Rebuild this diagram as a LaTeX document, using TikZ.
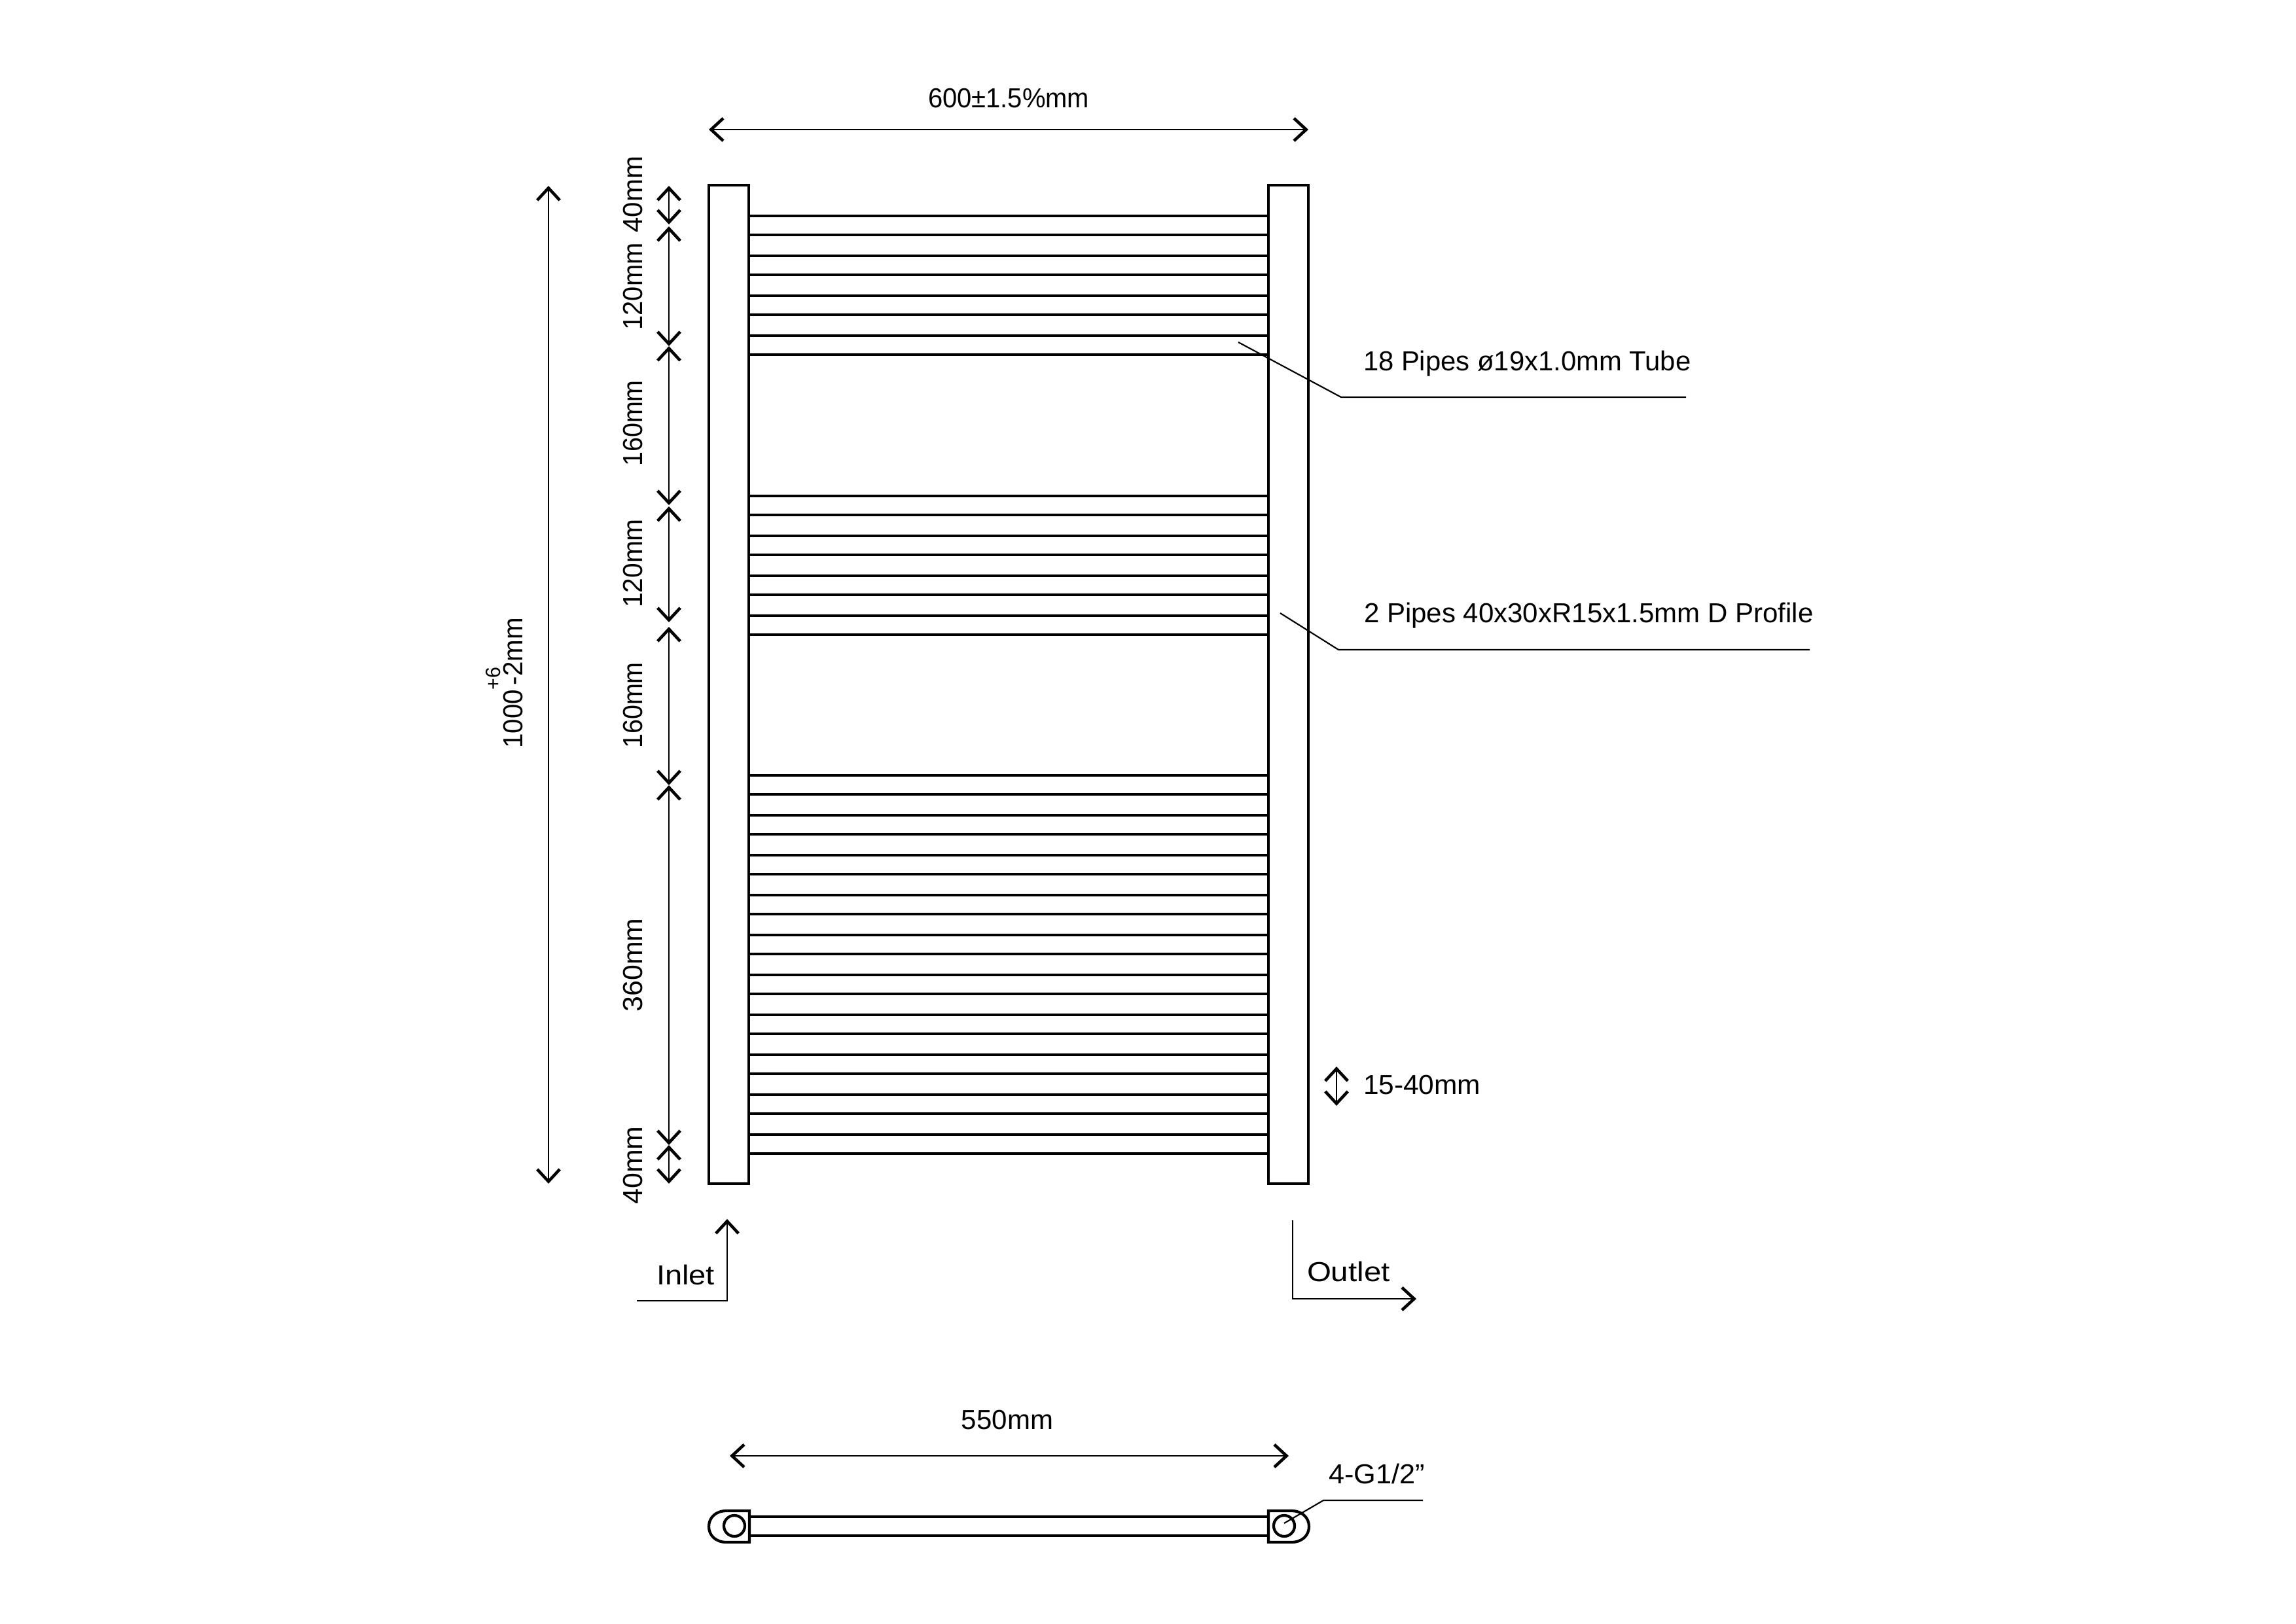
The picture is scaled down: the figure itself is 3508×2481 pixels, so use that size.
\documentclass[tikz,border=0pt]{standalone}
\usepackage{fontspec}
\usepackage{graphicx}
\setmainfont{Liberation Sans}
\usetikzlibrary{arrows.meta}
\tikzset{
  x=0.01cm,y=-0.01cm,
  barline/.style={line width=1.2pt,line join=miter},
  pipe/.style={line width=1pt},
  thin line/.style={line width=.62pt,line join=miter},
  >={Straight Barb[length=5.3pt,width=9.8pt,line width=1.3pt]},
  dim/.style={thin line,<->},
  flow/.style={thin line,->},
  lab/.style={inner sep=0pt,outer sep=0pt,anchor=base west,font=\fontsize{11.95}{14}\selectfont},
  labc/.style={lab,anchor=base},
  vlab/.style={lab,anchor=base,rotate=90},
}
\newcommand{\sx}[2]{\scalebox{#1}[1]{#2}}
\begin{document}
\begin{tikzpicture}
\useasboundingbox (0,-1) rectangle (3508,2480);
\fill[white] (0,-1) rectangle (3508,2480);

% pipes
\foreach \y in {329,358,390,419,451,480,512,541,
                757,786,818,847,879,908,940,969,
                1184,1213,1245,1274,1306,1335,1367,1396,1428,1457,1489,1518,1550,1579,1611,1640,1672,1701,1733,1762}
  \draw[pipe] (1144,\y) -- (1938,\y);

% collectors
\draw[barline] (1083,282) rectangle (1144,1808);
\draw[barline] (1938,282) rectangle (1999,1808);

% named dimension points
\coordinate (wL) at (1083,197);
\coordinate (wR) at (1999,197);
\coordinate (hT) at (838,283);
\coordinate (hB) at (838,1808);
\coordinate (a0) at (1022,283);
\coordinate (a1) at (1022,342);
\coordinate (b0) at (1022,345);
\coordinate (b1) at (1022,528);
\coordinate (c1) at (1022,771);
\coordinate (d0) at (1022,773);
\coordinate (d1) at (1022,950);
\coordinate (e0) at (1022,957);
\coordinate (e1) at (1022,1199);
\coordinate (f1) at (1022,1749);
\coordinate (g1) at (1022,1808);
\coordinate (sT) at (2042,1629);
\coordinate (sB) at (2042,1689);
\coordinate (cL) at (1115,2224);
\coordinate (cR) at (1969,2224);

\draw[dim] (wL) -- (wR);
\draw[dim] (hT) -- (hB);
\draw[dim] (a0) -- (a1);
\draw[dim] (b0) -- (b1);
\draw[dim] (b1) -- (c1);
\draw[dim] (d0) -- (d1);
\draw[dim] (e0) -- (e1);
\draw[dim] (e1) -- (f1);
\draw[dim] (f1) -- (g1);
\draw[dim] (sT) -- (sB);
\draw[dim] (cL) -- (cR);

% leaders
\coordinate (p1) at (1892,522);
\coordinate (p2) at (2049,606);
\coordinate (p3) at (2576,606);
\draw[thin line] (p1) -- (p2) -- (p3);
\coordinate (q1) at (1956,936);
\coordinate (q2) at (2045,992);
\coordinate (q3) at (2765,992);
\draw[thin line] (q1) -- (q2) -- (q3);

% inlet / outlet
\coordinate (i0) at (973,1987);
\coordinate (i1) at (1111,1987);
\coordinate (i2) at (1111,1862);
\draw[flow] (i0) -- (i1) -- (i2);
\coordinate (o0) at (1975,1864);
\coordinate (o1) at (1975,1984);
\coordinate (o2) at (2164,1984);
\draw[flow] (o0) -- (o1) -- (o2);

% bottom view
\draw[pipe] (1145,2317) -- (1938,2317);
\draw[pipe] (1145,2346) -- (1938,2346);
\draw[barline] (1145,2308) -- (1145,2356) -- (1110,2356)
  .. controls (1093,2356) and (1083,2345) .. (1083,2332)
  .. controls (1083,2319) and (1093,2308) .. (1110,2308) -- cycle;
\draw[barline] (1938,2308) -- (1938,2356) -- (1973,2356)
  .. controls (1990,2356) and (2000,2345) .. (2000,2332)
  .. controls (2000,2319) and (1990,2308) .. (1973,2308) -- cycle;
\draw[barline] (1122,2331) circle[radius=16];
\draw[barline] (1962,2331) circle[radius=16];
\coordinate (r1) at (1962,2327);
\coordinate (r2) at (2022,2292);
\coordinate (r3) at (2174,2292);
\draw[thin line] (r1) -- (r2) -- (r3);

% labels
\node[labc] (tw) at (1541,163) {\sx{.95}{600±1.5\%mm}};
\node[labc] (tb) at (1539,2183) {550mm};
\node[lab] (tg) at (2030,2266) {\sx{1.03}{4-G1/2”}};
\node[lab] (t18) at (2083,565) {\sx{.995}{18 Pipes ø19x1.0mm Tube}};
\node[lab] (t2) at (2084,950) {2 Pipes 40x30xR15x1.5mm D Profile};
\node[lab] (ts) at (2083,1671) {\sx{1.01}{15-40mm}};
\node[lab] (to) at (1997,1957) {\sx{1.13}{Outlet}};
\node[lab] (ti) at (1003,1962) {\sx{1.12}{Inlet}};

\node[vlab] (v1) at (981,296) {40mm};
\node[vlab] (v2) at (981,437) {\sx{.95}{120mm}};
\node[vlab] (v3) at (981,646) {\sx{.94}{160mm}};
\node[vlab] (v4) at (981,860) {\sx{.97}{120mm}};
\node[vlab] (v5) at (981,1077) {\sx{.94}{160mm}};
\node[vlab] (v6) at (981,1474) {\sx{1.02}{360mm}};
\node[vlab] (v7) at (981,1780) {\sx{1.02}{40mm}};
\node[vlab] (vh) at (798,1043) {\sx{.96}{1000\rlap{\raisebox{9.4pt}{\fontsize{9}{10}\selectfont +6}}\,-2mm}};
\end{tikzpicture}
\end{document}
